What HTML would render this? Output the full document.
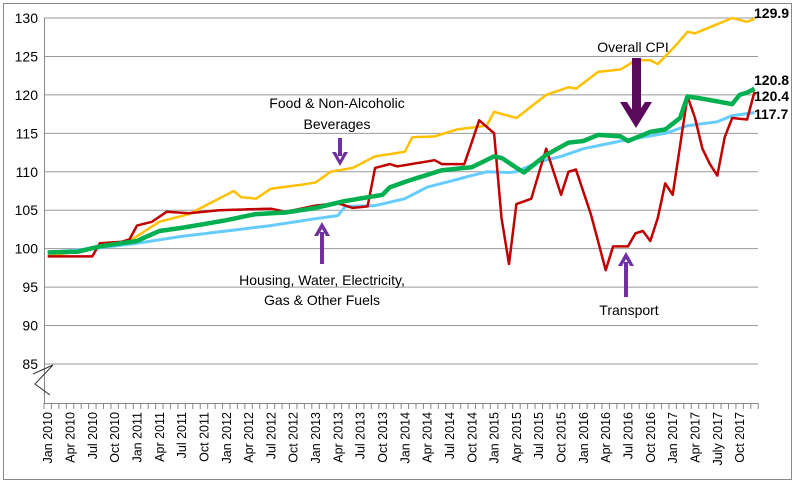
<!DOCTYPE html><html><head><style>body{margin:0;background:#fff}svg{display:block;font-family:"Liberation Sans",sans-serif}</style></head><body>
<svg id="s" width="795" height="483" xmlns="http://www.w3.org/2000/svg">
<rect x="3.5" y="3.5" width="788" height="476" fill="#fff" stroke="#888"/>
<g id="grid"></g>
<g id="series"></g>
<path d="M33 374 L53 365 L35 384 L50 395" fill="none" stroke="#333" stroke-width="1"/>
<g font-size="14" fill="#000" text-anchor="middle">
<text x="337" y="108">Food &amp; Non-Alcoholic</text>
<text x="337" y="129">Beverages</text>
<text x="322" y="285">Housing, Water, Electricity,</text>
<text x="322" y="305">Gas &amp; Other Fuels</text>
<text x="629" y="315">Transport</text>
<text x="633" y="52">Overall CPI</text>
</g>
<g font-size="14" font-weight="bold" fill="#000">
<text x="754" y="18">129.9</text>
<text x="754" y="85">120.8</text>
<text x="754" y="101">120.4</text>
<text x="754" y="119">117.7</text>
</g>
<g fill="#7030a0" stroke="none">
<rect x="338" y="138" width="4" height="18"/><path d="M332 152 L340 166 L348 152 L344 152 L340 160 L336 152Z"/>
<rect x="320" y="232" width="4" height="32"/><path d="M314 236 L322 222 L330 236 L326 236 L322 229 L318 236Z"/>
<rect x="624" y="262" width="4" height="35"/><path d="M618 266 L626 252 L634 266 L630 266 L626 259 L622 266Z"/>
</g>
<g fill="#5b0a5b"><rect x="632" y="58" width="9" height="58"/><path d="M620 102 L636 128 L652 102 L645 102 L636 116 L627 102Z"/></g>
</svg>
<script>
const Y=v=>18+(130-v)*7.689, X=i=>47.7+7.44*i;
const g=document.getElementById('grid'),ns='http://www.w3.org/2000/svg';
let h='';
for(let v=85;v<=130;v+=5){h+=`<line x1="44" x2="758" y1="${Y(v)}" y2="${Y(v)}" stroke="#999"/>`;h+=`<text x="38" y="${Y(v)+5}" font-size="14" text-anchor="end">${v}</text>`;}
h+=`<line x1="44.5" x2="44.5" y1="18" y2="403" stroke="#888"/><line x1="44" x2="758" y1="403.5" y2="403.5" stroke="#888"/>`;
const M=['Jan','Apr','Jul','Oct'];
for(let i=0;i<=96;i++){const x=44+7.44*i;h+=`<line x1="${x}" x2="${x}" y1="403" y2="409" stroke="#888"/>`;}
for(let i=0;i<96;i+=3){const yr=2010+Math.floor(i/12);let m=M[(i%12)/3];if(m==='Jul'&&yr===2017)m='July';h+=`<text transform="translate(${X(i)+4.5},412) rotate(-90)" font-size="12.5" text-anchor="end">${m} ${yr}</text>`;}
g.innerHTML=h;
function interp(k){const a=[];for(let i=0;i<96;i++){for(let j=0;j<k.length-1;j++){if(i>=k[j][0]&&i<=k[j+1][0]){const t=(i-k[j][0])/((k[j+1][0]-k[j][0])||1);a.push(k[j][1]+t*(k[j+1][1]-k[j][1]));break;}}}return a;}
const food=[[0,99],[6,100],[11,101],[15,103.5],[19,104.5],[23,106.5],[25,107.5],[26,106.7],[28,106.5],[30,107.8],[34,108.3],[36,108.6],[38,110],[41,110.5],[42,111],[44,112],[48,112.6],[49,114.5],[52,114.6],[55,115.5],[59,116],[60,117.8],[63,117],[67,120],[70,121],[71,120.8],[74,123],[77,123.3],[79,124.5],[81,124.5],[82,124],[84,126],[86,128.2],[87,128],[90,129.2],[92,130],[94,129.5],[95,129.9]];
const house=[[0,99.5],[6,100],[12,100.7],[18,101.6],[24,102.3],[30,103],[36,103.9],[39,104.3],[40,105.5],[44,105.6],[48,106.5],[51,108],[55,109],[59,110],[62,109.9],[63,110],[66,111.3],[69,112],[72,113],[77,114],[80,114.5],[83,115],[86,116],[90,116.5],[92,117.3],[95,117.7]];
const cpi=[[0,99.5],[4,99.6],[7,100.3],[12,101],[15,102.3],[18,102.7],[24,103.7],[28,104.5],[32,104.7],[36,105.3],[40,106.2],[45,107],[46,108],[49,109],[53,110.2],[57,110.6],[60,112],[61,111.8],[64,109.9],[67,112.2],[70,113.8],[72,114],[74,114.8],[77,114.6],[78,114],[81,115.2],[83,115.5],[85,117],[86,119.8],[88,119.5],[92,118.8],[93,120],[94,120.3],[95,120.8]];
const tr=[[0,99],[6,99],[7,100.7],[10,100.9],[11,101.2],[12,103],[14,103.5],[16,104.8],[19,104.6],[23,105],[30,105.2],[32,104.8],[36,105.6],[39,105.9],[41,105.3],[43,105.5],[44,110.5],[46,111],[47,110.7],[52,111.5],[53,111],[56,111],[58,116.7],[60,115],[61,104],[62,98],[63,105.8],[65,106.5],[67,113],[69,107],[70,110],[71,110.3],[73,104.5],[75,97.2],[76,100.3],[78,100.3],[79,102],[80,102.3],[81,101],[82,104],[83,108.5],[84,107],[86,119.8],[87,117],[88,113],[89,111],[90,109.5],[91,114.5],[92,117],[94,116.8],[95,120.4]];
function path(a,c,w){return `<path d="${a.map((v,i)=>(i?'L':'M')+X(i).toFixed(1)+' '+Y(v).toFixed(1)).join(' ')}" fill="none" stroke="${c}" stroke-width="${w}" stroke-linejoin="round"/>`;}
document.getElementById('series').innerHTML=path(interp(house),'#66ccff',3)+path(interp(food),'#ffc000',2.5)+path(interp(tr),'#c00000',2.5)+path(interp(cpi),'#00b050',4.5);
</script>
</body></html>
